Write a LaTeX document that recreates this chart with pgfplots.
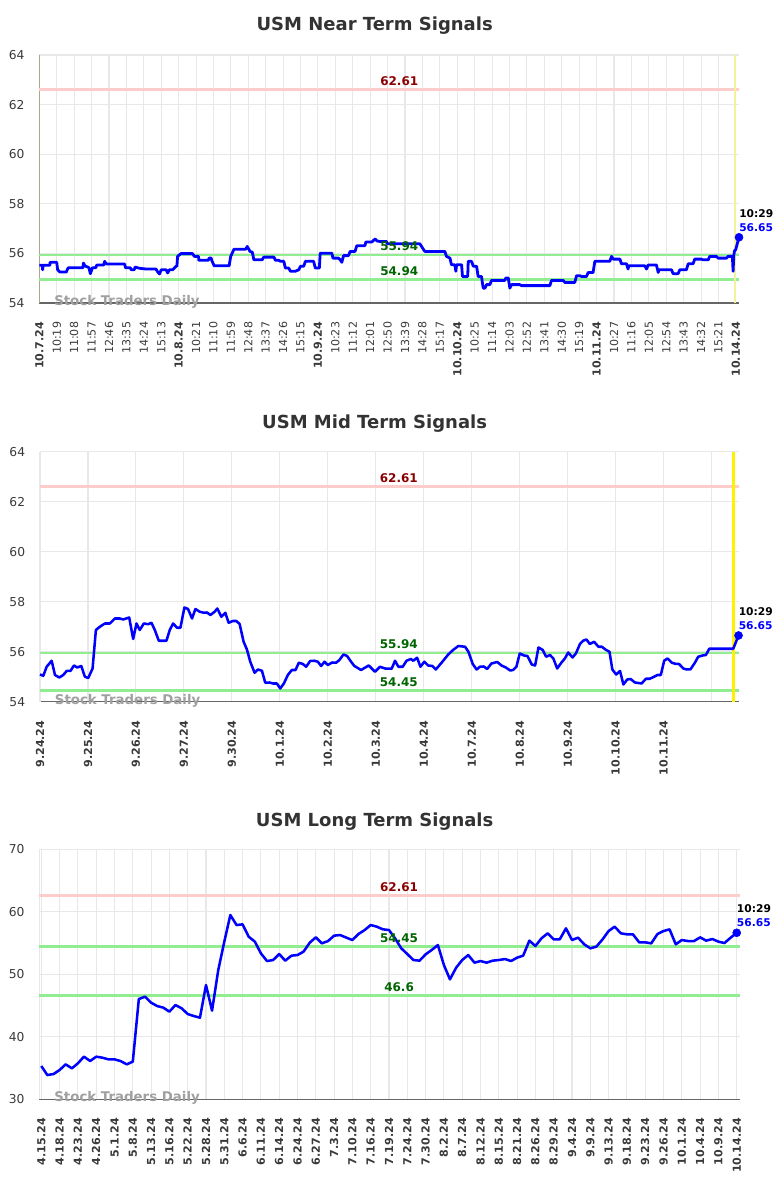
\documentclass[border=0pt]{standalone}
\usepackage{pgfplots}
\pgfplotsset{compat=1.18}
\usepackage{fontspec}
\setmainfont{DejaVu Sans}

\definecolor{gridc}{HTML}{E8E8E8}
\definecolor{resist}{HTML}{FFCCCC}
\definecolor{support}{HTML}{90EE90}
\definecolor{redlab}{HTML}{8B0000}
\definecolor{greenlab}{HTML}{006400}
\definecolor{titlec}{HTML}{333333}
\definecolor{tickc}{HTML}{3A3A3A}
\definecolor{axisc}{HTML}{666666}
\definecolor{wmark}{HTML}{A0A0A0}
\definecolor{olivel}{HTML}{AAAA80}
\definecolor{paleyel}{HTML}{F2F29A}

\pgfplotsset{
  sig/.style={
    scale only axis,
    anchor=south west,
    axis x line*=bottom, axis y line*=left,
    x axis line style={axisc, line width=0.9pt, -},
    y axis line style={gridc, line width=0.8pt, -},
    grid=major,
    major grid style={gridc, line width=0.8pt},
    major tick length=0pt,
    tick style={draw=none},
    /pgf/number format/assume math mode=true,
    yticklabel style={font=\fontsize{9.2}{11}\selectfont, text=tickc, anchor=east, inner sep=0pt},
    yticklabel shift=11pt,
    xticklabel style={font=\fontsize{8.3}{10}\selectfont, text=tickc, rotate=90, anchor=east, inner sep=0pt},
    xticklabel shift=14pt,
    clip=false,
  },
  price/.style={blue, line width=1.9pt, line join=round},
  lvlred/.style={resist, line width=1.8pt},
  lvlgreen/.style={support, line width=1.8pt},
}
\tikzset{
  lvlr/.style={anchor=south, inner sep=0pt, yshift=3pt, font=\fontsize{9}{11}\selectfont\bfseries, text=redlab},
  lvlg/.style={anchor=south, inner sep=0pt, yshift=3pt, font=\fontsize{9}{11}\selectfont\bfseries, text=greenlab},
  wm/.style={anchor=west, inner sep=0pt, xshift=11pt, yshift=1pt, font=\fontsize{10}{12}\selectfont\bfseries, text=wmark},
  endl/.style={anchor=west, inner sep=0pt, font=\fontsize{8}{10}\selectfont\bfseries},
  ttl/.style={font=\fontsize{13.5}{16}\selectfont\bfseries, text=titlec},
}

\begin{document}
\begin{tikzpicture}
\fill[white] (0,0) rectangle (588pt,-895.5pt);
\path[use as bounding box] (0,0) rectangle (588pt,-895.5pt);

% ---------------- near term ----------------
\node[ttl] at (281pt,-19.5pt) {USM Near Term Signals};
\begin{axis}[sig,
  at={(29.5pt,-227.25pt)},
  width=524.75pt, height=186pt,
  xmin=0, xmax=40.18, ymin=54, ymax=64,
  ytick={54,56,...,64},
  xtick={0,...,40},
  y axis line style={olivel, line width=1pt},
  xticklabels={\textbf{10.7.24},10:19,11:08,11:57,12:46,13:35,14:24,15:13,
    \textbf{10.8.24},10:21,11:10,11:59,12:48,13:37,14:26,15:15,
    \textbf{10.9.24},10:23,11:12,12:01,12:50,13:39,14:28,15:17,
    \textbf{10.10.24},10:25,11:14,12:03,12:52,13:41,14:30,15:19,
    \textbf{10.11.24},10:27,11:16,12:05,12:54,13:43,14:32,15:21,
    \textbf{10.14.24}},
]
\addplot[lvlred] coordinates {(0,62.61)(40.18,62.61)};
\addplot[lvlgreen] coordinates {(0,55.94)(40.18,55.94)};
\addplot[lvlgreen] coordinates {(0,54.94)(40.18,54.94)};
\addplot[paleyel, line width=1.3pt] coordinates {(39.95,54)(39.95,64)};
\addplot[price, line width=2.1pt] coordinates {
(0,55.52)(0.17,55.52)(0.19,55.34)(0.22,55.52)(0.6,55.52)(0.62,55.64)(1.0,55.64)(1.05,55.34)
(1.18,55.25)(1.55,55.25)(1.6,55.34)(1.66,55.42)(2.5,55.42)(2.53,55.61)(2.62,55.50)(2.85,55.42)
(2.93,55.18)(3.05,55.42)(3.24,55.42)(3.3,55.53)(3.7,55.53)(3.75,55.68)(3.85,55.57)(4.9,55.57)
(4.95,55.42)(5.22,55.42)(5.28,55.34)(5.45,55.34)(5.5,55.45)(5.75,55.40)(6.13,55.37)(6.7,55.37)
(6.8,55.25)(6.9,55.17)(7.0,55.34)(7.28,55.34)(7.37,55.21)(7.47,55.34)(7.66,55.34)(7.85,55.48)
(7.9,55.48)(7.94,55.88)(8.13,55.99)(8.8,55.99)(8.9,55.88)(9.14,55.88)(9.16,55.72)(9.7,55.72)
(9.75,55.81)(9.87,55.81)(9.9,55.72)(10.04,55.50)(10.9,55.50)(10.99,55.88)(11.18,56.17)(11.85,56.17)
(11.94,56.28)(12.1,56.08)(12.23,56.05)(12.32,55.74)(12.8,55.74)(12.85,55.81)(12.9,55.85)(13.47,55.85)
(13.56,55.72)(13.75,55.72)(13.85,55.68)(14.04,55.68)(14.13,55.41)(14.32,55.41)(14.42,55.28)(14.7,55.28)
(14.9,55.34)(15.0,55.48)(15.18,55.48)(15.28,55.68)(15.75,55.68)(15.85,55.41)(16.08,55.41)(16.13,56.01)
(16.8,56.01)(16.86,55.81)(17.18,55.81)(17.28,55.74)(17.37,55.64)(17.47,55.91)(17.75,55.91)(17.85,56.08)
(18.13,56.08)(18.23,56.31)(18.7,56.31)(18.75,56.46)(19.09,56.46)(19.28,56.58)(19.4,56.5)
(19.56,56.48)(19.94,56.48)(19.97,56.39)(21.85,56.39)(22.05,56.17)(22.14,56.08)(23.29,56.08)(23.38,55.88)
(23.58,55.81)(23.67,55.54)(23.86,55.54)(23.92,55.28)(23.96,55.54)(24.25,55.54)(24.30,55.07)(24.6,55.07)
(24.63,55.68)(24.82,55.68)(24.92,55.48)(25.11,55.48)(25.20,55.07)(25.39,55.07)(25.49,54.6)(25.59,54.6)
(25.68,54.74)(25.87,54.74)(25.97,54.91)(26.73,54.91)(26.79,55.01)(26.93,55.01)(27.02,54.6)(27.12,54.74)
(27.59,54.74)(27.69,54.70)(29.32,54.70)(29.41,54.91)(30.08,54.91)(30.18,54.83)(30.75,54.83)(30.85,55.10)
(31.04,55.10)(31.13,55.07)(31.42,55.07)(31.52,55.23)(31.80,55.23)(31.90,55.68)(32.76,55.68)(32.86,55.88)
(32.95,55.77)(33.34,55.77)(33.43,55.58)(33.72,55.58)(33.81,55.37)(33.85,55.50)(34.77,55.50)(34.87,55.37)
(34.96,55.53)(35.44,55.53)(35.54,55.23)(35.58,55.34)(36.30,55.34)(36.40,55.18)(36.68,55.18)(36.78,55.34)
(37.16,55.34)(37.26,55.58)(37.54,55.58)(37.64,55.77)(38.02,55.77)(38.12,55.74)(38.41,55.74)(38.50,55.88)
(38.88,55.88)(38.98,55.81)(39.46,55.81)(39.55,55.88)(39.80,55.88)(39.84,55.28)(39.88,55.9)(39.92,56.1)
(39.99,56.15)(40.18,56.65)};
\addplot[only marks, mark=*, mark size=3pt, blue] coordinates {(40.18,56.65)};
\node[lvlr] at (axis cs:20.67,62.61) {62.61};
\node[lvlg] at (axis cs:20.67,55.94) {55.94};
\node[lvlg] at (axis cs:20.67,54.94) {54.94};
\node[wm] at (axis cs:0,54) {Stock Traders Daily};
\node[endl, text=blue, yshift=7.5pt] at (axis cs:40.18,56.65) {56.65};
\node[endl, text=black, yshift=18pt] at (axis cs:40.18,56.65) {10:29};
\end{axis}

% ---------------- mid term ----------------
\node[ttl] at (281pt,-318pt) {USM Mid Term Signals};
\begin{axis}[sig,
  at={(30pt,-526.3pt)},
  width=524.25pt, height=187.5pt,
  xmin=0, xmax=14.57, ymin=54, ymax=64,
  ytick={54,56,...,64},
  xtick={0,...,14},
  xticklabel style={font=\fontsize{8.3}{10}\selectfont\bfseries},
  xticklabels={9.24.24,9.25.24,9.26.24,9.27.24,9.30.24,10.1.24,10.2.24,10.3.24,
    10.4.24,10.7.24,10.8.24,10.9.24,10.10.24,10.11.24,{}},
]
\addplot[lvlred] coordinates {(0,62.61)(14.57,62.61)};
\addplot[lvlgreen] coordinates {(0,55.94)(14.57,55.94)};
\addplot[lvlgreen] coordinates {(0,54.45)(14.57,54.45)};
\addplot[yellow, line width=2pt] coordinates {(14.45,54)(14.45,64)};
\addplot[price] coordinates {
(0,55.09)(0.069,55.04)(0.139,55.40)(0.243,55.64)(0.312,55.07)(0.402,54.97)(0.485,55.07)(0.555,55.23)
(0.638,55.24)(0.707,55.45)(0.777,55.37)(0.86,55.43)(0.936,55.0)(1.006,54.95)(1.096,55.33)(1.165,56.87)
(1.248,57.0)(1.352,57.13)(1.456,57.13)(1.56,57.33)(1.664,57.33)(1.734,57.29)(1.859,57.37)(1.942,56.51)
(2.011,57.13)(2.08,56.87)(2.164,57.13)(2.254,57.1)(2.323,57.16)(2.393,56.87)(2.476,56.44)(2.635,56.44)
(2.705,56.87)(2.774,57.13)(2.857,56.96)(2.927,56.96)(3.01,57.77)(3.086,57.71)(3.169,57.33)(3.239,57.71)
(3.329,57.6)(3.412,57.56)(3.481,57.57)(3.551,57.47)(3.641,57.6)(3.696,57.73)(3.78,57.4)(3.863,57.56)
(3.932,57.16)(4.022,57.23)(4.092,57.23)(4.161,57.11)(4.244,56.4)(4.313,56.09)(4.383,55.6)(4.473,55.16)
(4.542,55.29)(4.626,55.24)(4.695,54.76)(4.785,54.77)(4.854,54.73)(4.938,54.73)(5.007,54.53)(5.083,54.73)
(5.166,55.07)(5.25,55.27)(5.326,55.27)(5.395,55.56)(5.479,55.51)(5.548,55.4)(5.631,55.63)(5.721,55.64)
(5.791,55.6)(5.86,55.43)(5.929,55.6)(5.999,55.47)(6.089,55.57)(6.172,55.56)(6.241,55.67)(6.325,55.89)
(6.401,55.83)(6.484,55.6)(6.553,55.43)(6.692,55.27)(6.852,55.45)(6.983,55.2)(7.087,55.4)(7.19,55.33)
(7.33,55.32)(7.40,55.64)(7.47,55.4)(7.56,55.4)(7.64,55.64)(7.73,55.71)(7.78,55.64)(7.86,55.76)
(7.93,55.4)(8.01,55.6)(8.09,55.45)(8.18,55.43)(8.25,55.29)(8.37,55.56)(8.51,55.89)(8.61,56.07)
(8.72,56.23)(8.86,56.2)(8.93,56.0)(9.02,55.51)(9.10,55.29)(9.17,55.4)(9.25,55.41)(9.32,55.31)
(9.41,55.53)(9.53,55.59)(9.62,55.45)(9.71,55.37)(9.80,55.25)(9.86,55.27)(9.93,55.4)(10.0,55.93)
(10.09,55.85)(10.16,55.83)(10.25,55.49)(10.32,55.45)(10.39,56.17)(10.48,56.07)(10.55,55.8)(10.63,55.87)
(10.70,55.73)(10.78,55.33)(10.87,55.57)(10.94,55.73)(11.01,55.97)(11.10,55.77)(11.17,55.93)(11.255,56.31)
(11.32,56.44)(11.39,56.49)(11.46,56.31)(11.55,56.4)(11.64,56.2)(11.71,56.2)(11.80,56.07)(11.87,56.0)
(11.93,55.29)(12.01,55.09)(12.09,55.23)(12.16,54.69)(12.24,54.89)(12.31,54.91)(12.40,54.77)(12.54,54.73)
(12.63,54.92)(12.71,54.92)(12.80,55.0)(12.87,55.07)(12.94,55.07)(13.01,55.64)(13.08,55.73)(13.17,55.56)
(13.24,55.52)(13.32,55.51)(13.41,55.33)(13.48,55.29)(13.56,55.3)(13.65,55.56)(13.72,55.8)(13.81,55.85)
(13.88,55.87)(13.95,56.12)(14.45,56.12)(14.56,56.65)};
\addplot[only marks, mark=*, mark size=3pt, blue] coordinates {(14.56,56.65)};
\node[lvlr] at (axis cs:7.48,62.61) {62.61};
\node[lvlg] at (axis cs:7.48,55.94) {55.94};
\node[lvlg] at (axis cs:7.48,54.45) {54.45};
\node[wm] at (axis cs:0,54) {Stock Traders Daily};
\node[endl, text=blue, yshift=7.5pt] at (axis cs:14.56,56.65) {56.65};
\node[endl, text=black, yshift=18pt] at (axis cs:14.56,56.65) {10:29};
\end{axis}

% ---------------- long term ----------------
\node[ttl] at (281pt,-616.5pt) {USM Long Term Signals};
\begin{axis}[sig,
  at={(29.6pt,-824.5pt)},
  width=525.4pt, height=187.5pt,
  xmin=-0.1, xmax=38.18, ymin=30, ymax=70,
  ytick={30,40,...,70},
  xtick={0,...,38},
  xticklabel style={font=\fontsize{8.3}{10}\selectfont\bfseries},
  xticklabels={4.15.24,4.18.24,4.23.24,4.26.24,5.1.24,5.8.24,5.13.24,5.16.24,5.22.24,5.28.24,
    5.31.24,6.6.24,6.11.24,6.14.24,6.24.24,6.27.24,7.3.24,7.10.24,7.16.24,7.19.24,
    7.24.24,7.30.24,8.2.24,8.7.24,8.12.24,8.15.24,8.21.24,8.26.24,8.29.24,9.4.24,
    9.9.24,9.13.24,9.18.24,9.23.24,9.26.24,10.1.24,10.4.24,10.9.24,10.14.24},
]
\addplot[lvlred] coordinates {(-0.1,62.61)(38.18,62.61)};
\addplot[lvlgreen] coordinates {(-0.1,54.45)(38.18,54.45)};
\addplot[lvlgreen] coordinates {(-0.1,46.6)(38.18,46.6)};
\addplot[price] coordinates {
(0,35.33)(0.33,33.89)(0.67,34.05)(1.0,34.69)(1.33,35.6)(1.67,34.96)(2.0,35.76)(2.33,36.83)
(2.67,36.13)(3.0,36.83)(3.33,36.67)(3.67,36.4)(4.0,36.4)(4.33,36.13)(4.67,35.6)(5.0,36.03)
(5.33,46.05)(5.67,46.43)(6.0,45.47)(6.33,44.93)(6.67,44.67)(7.0,44.03)(7.33,45.09)(7.67,44.56)
(8.0,43.65)(8.33,43.33)(8.67,43.07)(9.0,48.29)(9.33,44.19)(9.67,50.69)(10.0,55.23)(10.33,59.49)
(10.67,57.89)(11.0,58.0)(11.33,56.03)(11.67,55.23)(12.0,53.36)(12.33,52.13)(12.67,52.29)(13.0,53.25)
(13.33,52.19)(13.67,52.99)(14.0,53.09)(14.33,53.63)(14.67,55.07)(15.0,55.92)(15.33,54.96)(15.67,55.33)
(16.0,56.19)(16.33,56.29)(16.67,55.87)(17.0,55.49)(17.33,56.45)(17.67,57.09)(18.0,57.89)(18.33,57.63)
(18.67,57.2)(19.0,57.09)(19.33,55.76)(19.67,54.16)(20.0,53.25)(20.33,52.29)(20.67,52.19)(21.0,53.2)
(21.33,53.89)(21.67,54.69)(22.0,51.49)(22.33,49.2)(22.67,51.07)(23.0,52.29)(23.33,53.09)(23.67,51.87)
(24.0,52.13)(24.33,51.87)(24.67,52.19)(25.0,52.29)(25.33,52.45)(25.67,52.13)(26.0,52.67)(26.33,52.99)
(26.67,55.39)(27.0,54.53)(27.33,55.76)(27.67,56.56)(28.0,55.6)(28.33,55.6)(28.67,57.36)(29.0,55.49)
(29.33,55.87)(29.67,54.8)(30.0,54.16)(30.33,54.43)(30.67,55.6)(31.0,56.93)(31.33,57.63)(31.67,56.56)
(32.0,56.4)(32.33,56.4)(32.67,55.12)(33.0,55.12)(33.33,54.96)(33.67,56.45)(34.0,56.93)(34.33,57.2)
(34.67,54.8)(35.0,55.49)(35.33,55.33)(35.67,55.33)(36.0,55.92)(36.33,55.39)(36.67,55.65)(37.0,55.23)
(37.33,55.01)(37.67,55.87)(38.0,56.65)};
\addplot[only marks, mark=*, mark size=3pt, blue] coordinates {(38.0,56.65)};
\node[lvlr] at (axis cs:19.55,62.61) {62.61};
\node[lvlg] at (axis cs:19.55,54.45) {54.45};
\node[lvlg] at (axis cs:19.55,46.6) {46.6};
\node[wm] at (axis cs:-0.1,30) {Stock Traders Daily};
\node[endl, text=blue, yshift=7.5pt] at (axis cs:38.0,56.65) {56.65};
\node[endl, text=black, yshift=18pt] at (axis cs:38.0,56.65) {10:29};
\end{axis}
\end{tikzpicture}
\end{document}
